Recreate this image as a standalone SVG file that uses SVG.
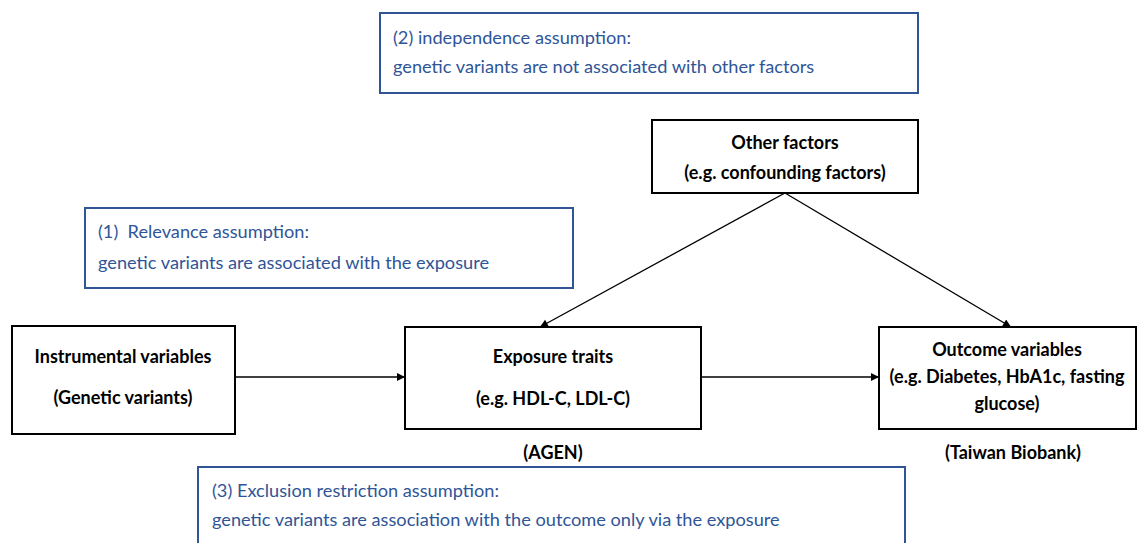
<svg xmlns="http://www.w3.org/2000/svg" width="1138" height="543" viewBox="0 0 1138 543">
<style>
.bluebox{fill:#fff;stroke:#2F5597;stroke-width:2}
.node{fill:#fff;stroke:#000;stroke-width:2}
.bt{font-family:Lato,"Open Sans",sans-serif;font-size:18.2px;fill:#2F5597}
.nt{font-family:Lato,"Open Sans",sans-serif;font-size:18px;font-weight:bold;fill:#000;text-anchor:middle}
.conn{stroke:#000;stroke-width:1.3;fill:none;marker-end:url(#ah)}
</style>
<defs>
<marker id="ah" viewBox="0 0 10 10" refX="10" refY="5" markerWidth="9" markerHeight="8" markerUnits="userSpaceOnUse" orient="auto">
<path d="M0,0 L10,5 L0,10 z" fill="#000"/>
</marker>
</defs>
<g id="assumption2">
<rect class="bluebox" x="380" y="13" width="538" height="80"/>
<text class="bt" x="393" y="44">(2) independence assumption:</text>
<text class="bt" x="393" y="73">genetic variants are not associated with other factors</text>
</g>
<g id="assumption1">
<rect class="bluebox" x="85" y="208" width="488" height="80"/>
<text class="bt" x="98" y="238" xml:space="preserve">(1)  Relevance assumption:</text>
<text class="bt" x="98" y="269">genetic variants are associated with the exposure</text>
</g>
<g id="assumption3">
<rect class="bluebox" x="198" y="467" width="707" height="90"/>
<text class="bt" x="212" y="497">(3) Exclusion restriction assumption:</text>
<text class="bt" x="212" y="526">genetic variants are association with the outcome only via the exposure</text>
</g>
<g id="other">
<rect class="node" x="652" y="120" width="266" height="73"/>
<text class="nt" x="785" y="149">Other factors</text>
<text class="nt" x="785" y="179">(e.g. confounding factors)</text>
</g>
<g id="instrumental">
<rect class="node" x="12" y="326" width="223" height="108"/>
<text class="nt" x="123" y="363">Instrumental variables</text>
<text class="nt" x="123" y="404">(Genetic variants)</text>
</g>
<g id="exposure">
<rect class="node" x="405" y="327" width="296" height="102"/>
<text class="nt" x="553" y="363">Exposure traits</text>
<text class="nt" x="553" y="405">(e.g. HDL-C, LDL-C)</text>
<text class="nt" x="553" y="459">(AGEN)</text>
</g>
<g id="outcome">
<rect class="node" x="879" y="327" width="257" height="102"/>
<text class="nt" x="1007" y="356">Outcome variables</text>
<text class="nt" x="1007" y="383">(e.g. Diabetes, HbA1c, fasting</text>
<text class="nt" x="1007" y="410">glucose)</text>
<text class="nt" x="1013" y="459">(Taiwan Biobank)</text>
</g>
<g id="connectors">
<line class="conn" x1="235" y1="377" x2="405" y2="377"/>
<line class="conn" x1="701" y1="377" x2="879" y2="377"/>
<line class="conn" x1="785" y1="193" x2="540" y2="327"/>
<line class="conn" x1="785" y1="193" x2="1011" y2="327"/>
</g>
</svg>
